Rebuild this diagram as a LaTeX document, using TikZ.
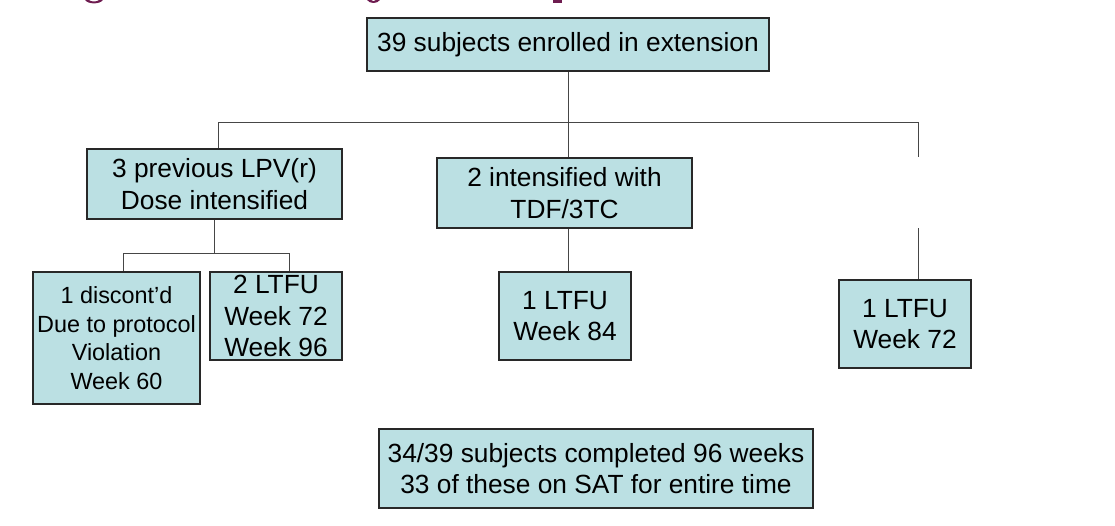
\documentclass[tikz,border=0pt]{standalone}
\usepackage{fontspec}
\setmainfont{Liberation Sans}
\usepackage{tikz}
\usepackage{xcolor}
\usetikzlibrary{calc,positioning}
\definecolor{boxfill}{RGB}{187,224,227}
\definecolor{boxline}{RGB}{40,40,40}
\definecolor{linkgray}{RGB}{70,70,70}
\definecolor{headpurple}{RGB}{110,28,80}

\begin{document}
\begin{tikzpicture}[
    x=1pt, y=-1pt,
    nosep/.style={inner sep=0},
    box/.style={draw=boxline, line width=1.1pt, fill=boxfill, align=center, nosep,
        font=\fontsize{26.3}{31.5}\selectfont},
    smallbox/.style={box, font=\fontsize{23.4}{28.5}\selectfont},
    blank/.style={nosep, minimum width=1pt, minimum height=71pt},
    link/.style={draw=linkgray, line width=1pt}]
\useasboundingbox (0,0) rectangle (1115,526);

% cut-off heading
\fill[headpurple] (85,0) .. controls (88,4.5) and (100,4.5) .. (103,0) -- (99,0) .. controls (97,2) and (91,2) .. (89,0) -- cycle;
\fill[headpurple] (367,0) .. controls (370,4) and (377,4) .. (380,0) -- (376,0) .. controls (375,1.5) and (372,1.5) .. (371,0) -- cycle;
\fill[headpurple] (553,0) rectangle (562,3);

% boxes
\node[box, minimum width=402pt, minimum height=53pt] (enrol) at (568,44.5) {39 subjects enrolled in extension};
\node[box, minimum width=255pt, minimum height=70pt] (lpv) at (214.5,184) {3 previous LPV(r)\\Dose intensified};
\node[box, minimum width=255pt, minimum height=70pt] (tdf) at (564.5,193) {2 intensified with\\TDF/3TC};
\node[blank] (other) at (918,192.5) {};
\node[smallbox, minimum width=167pt, minimum height=132pt] (disc) at (116.5,338) {1 discont'd\\Due to protocol\\Violation\\Week 60};
\node[box, minimum width=132pt, minimum height=88pt] (ltfuA) at (276,316) {2 LTFU\\Week 72\\Week 96};
\node[box, minimum width=132pt, minimum height=88pt] (ltfuB) at (565,316) {1 LTFU\\Week 84};
\node[box, minimum width=132pt, minimum height=88pt] (ltfuC) at (905,324) {1 LTFU\\Week 72};
\node[box, minimum width=434pt, minimum height=79pt] (done) at (596,468.5) {34/39 subjects completed 96 weeks\\33 of these on SAT for entire time};

% connectors
\coordinate (busL) at (218,123);
\coordinate (busR) at (918,123);
\coordinate (subL) at (123,254);
\coordinate (subR) at (289,254);
\path[link] (enrol.south) -- (enrol.south |- busL);
\path[link] (lpv.north -| busL) -- (busL) -- (busR) -- (other.north);
\path[link] (tdf.north -| enrol.south) -- (enrol.south |- busL);
\path[link] (other.south) -- (other.south |- ltfuC.north);
\path[link] (lpv.south) -- (lpv.south |- subL);
\path[link] (disc.north -| subL) -- (subL) -- (subR) -- (ltfuA.north -| subR);
\path[link] (tdf.south -| enrol.south) -- (ltfuB.north -| enrol.south);

\end{tikzpicture}
\end{document}
